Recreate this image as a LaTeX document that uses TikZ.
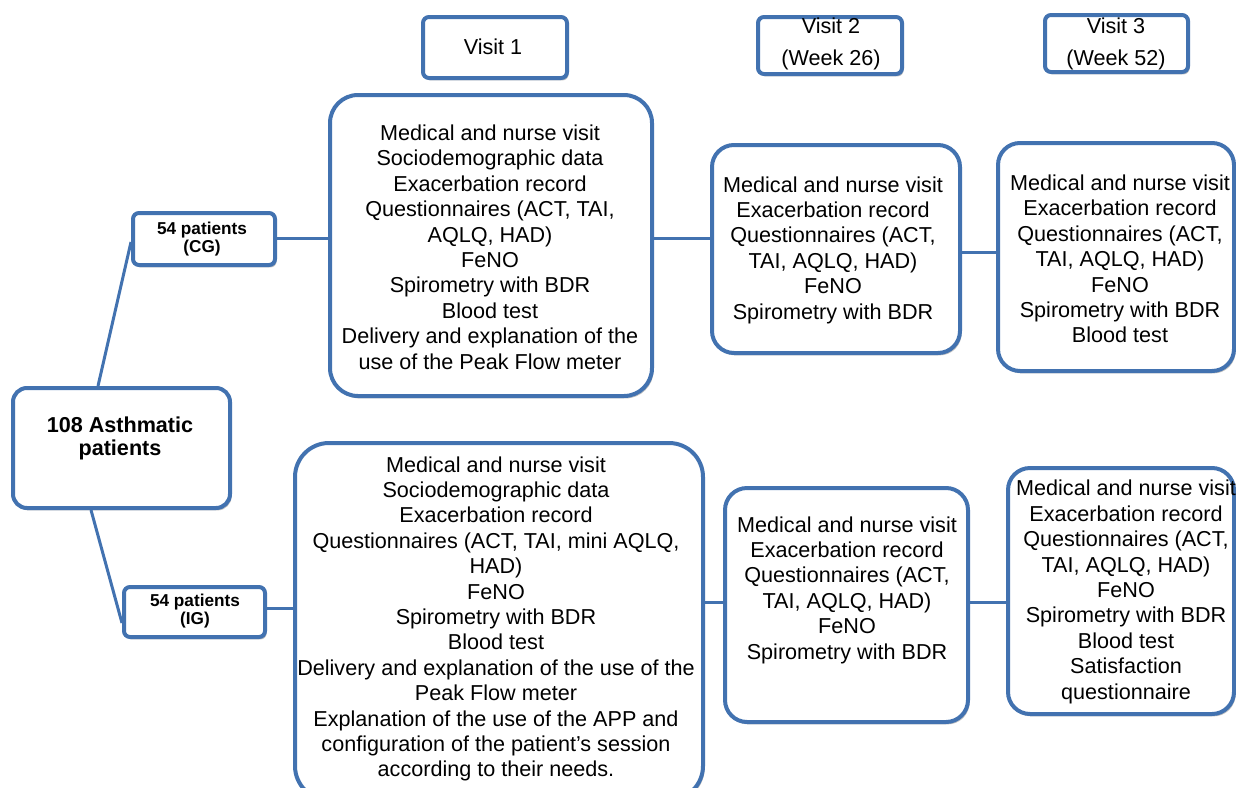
\documentclass[tikz,border=0pt]{standalone}
\usepackage{fontspec}
\setmainfont{Liberation Sans}
\usetikzlibrary{fit,shadows}
\definecolor{bblue}{RGB}{66,114,176}
\begin{document}
\begin{tikzpicture}[x=0.5pt,y=-0.5pt,
  box/.style={draw=bblue, line width=2pt, fill=white, inner sep=0pt,
    drop shadow={shadow xshift=0.8pt, shadow yshift=-1.2pt, opacity=0.25, fill=black}},
  conn/.style={draw=bblue, line width=1.5pt},
  txt/.style={font=\fontsize{10.8}{12.7}\selectfont, align=center, inner sep=0pt},
  hdr/.style={font=\fontsize{10.8}{16}\selectfont, align=center, inner sep=0pt},
  btxt/.style={font=\bfseries\fontsize{10.8}{11.5}\selectfont, align=center, inner sep=0pt},
  stxt/.style={font=\bfseries\fontsize{8.6}{9}\selectfont, align=center, inner sep=0pt}]
\useasboundingbox (0,0) rectangle (1236,787);

% header boxes
\node[box, rounded corners=3pt, fit={(423,17)(567,78)}] (v1) {};
\node[hdr] (v1t) at (493,47) {Visit 1};
\node[box, rounded corners=3pt, fit={(758,17)(902,74)}] (v2) {};
\node[hdr] (v2t) at (831,44) {Visit 2\\(Week 26)};
\node[box, rounded corners=3pt, fit={(1045,15)(1188,72)}] (v3) {};
\node[hdr] (v3t) at (1116,44) {Visit 3\\(Week 52)};

% left
\node[box, rounded corners=7pt, fit={(13,388)(230,508)}] (main) {};
\node[btxt] (maint) at (120,438) {108 Asthmatic\\patients};
\node[box, rounded corners=3pt, fit={(133,213)(275,265)}] (cg) {};
\node[stxt] (cgt) at (202,239) {54 patients\\(CG)};
\node[box, rounded corners=3pt, fit={(124,587)(265,637)}] (ig) {};
\node[stxt] (igt) at (195,611) {54 patients\\(IG)};

% CG row
\node[box, rounded corners=14pt, fit={(330,95)(652,396)}] (cg1) {};
\node[txt] (cg1t) at (490,247) {Medical and nurse visit\\Sociodemographic data\\Exacerbation record\\Questionnaires (ACT, TAI,\\AQLQ, HAD)\\FeNO\\Spirometry with BDR\\Blood test\\Delivery and explanation of the\\use of the Peak Flow meter};
\node[box, rounded corners=11pt, fit={(712,145)(960,353)}] (cg2) {};
\node[txt] (cg2t) at (833,250) {Medical and nurse visit\\Exacerbation record\\Questionnaires (ACT,\\TAI, AQLQ, HAD)\\FeNO\\Spirometry with BDR};
\node[box, rounded corners=11pt, fit={(998,143)(1234,371)}] (cg3) {};
\node[txt] (cg3t) at (1120,259) {Medical and nurse visit\\Exacerbation record\\Questionnaires (ACT,\\TAI, AQLQ, HAD)\\FeNO\\Spirometry with BDR\\Blood test};

% IG row
\node[box, rounded corners=17pt, fit={(295,443)(703,800)}] (ig1) {};
\node[txt] (ig1t) at (496,619) {Medical and nurse visit\\Sociodemographic data\\Exacerbation record\\Questionnaires (ACT, TAI, mini AQLQ,\\HAD)\\FeNO\\Spirometry with BDR\\Blood test\\Delivery and explanation of the use of the\\Peak Flow meter\\Explanation of the use of the APP and\\configuration of the patient's session\\according to their needs.};
\node[box, rounded corners=11pt, fit={(725,488)(968,722)}] (ig2) {};
\node[txt] (ig2t) at (847,590) {Medical and nurse visit\\Exacerbation record\\Questionnaires (ACT,\\TAI, AQLQ, HAD)\\FeNO\\Spirometry with BDR};
\node[box, rounded corners=11pt, fit={(1008,468)(1234,714)}] (ig3) {};
\node[txt] (ig3t) at (1126,592) {Medical and nurse visit\\Exacerbation record\\Questionnaires (ACT,\\TAI, AQLQ, HAD)\\FeNO\\Spirometry with BDR\\Blood test\\Satisfaction\\questionnaire};

% connectors
\draw[conn] ([xshift=43.5pt]main.north west) -- ([yshift=-1.5pt]cg.west);
\draw[conn] ([xshift=40pt]main.south west) -- ([yshift=-5.5pt]ig.west);
\coordinate (cgy) at ([yshift=0.5pt]cg.east);
\draw[conn] (cgy) -- (cgy -| cg1.west);
\draw[conn] (cgy -| cg1.east) -- (cgy -| cg2.west);
\coordinate (cgz) at ([yshift=-1.5pt]cg2.east);
\draw[conn] (cgz) -- (cgz -| cg3.west);
\coordinate (igy) at ([yshift=2pt]ig.east);
\draw[conn] (igy) -- (igy -| ig1.west);
\coordinate (igz) at ([yshift=9.75pt]ig1.east);
\draw[conn] (igz) -- (igz -| ig2.west);
\draw[conn] (igz -| ig2.east) -- (igz -| ig3.west);
\end{tikzpicture}
\end{document}
